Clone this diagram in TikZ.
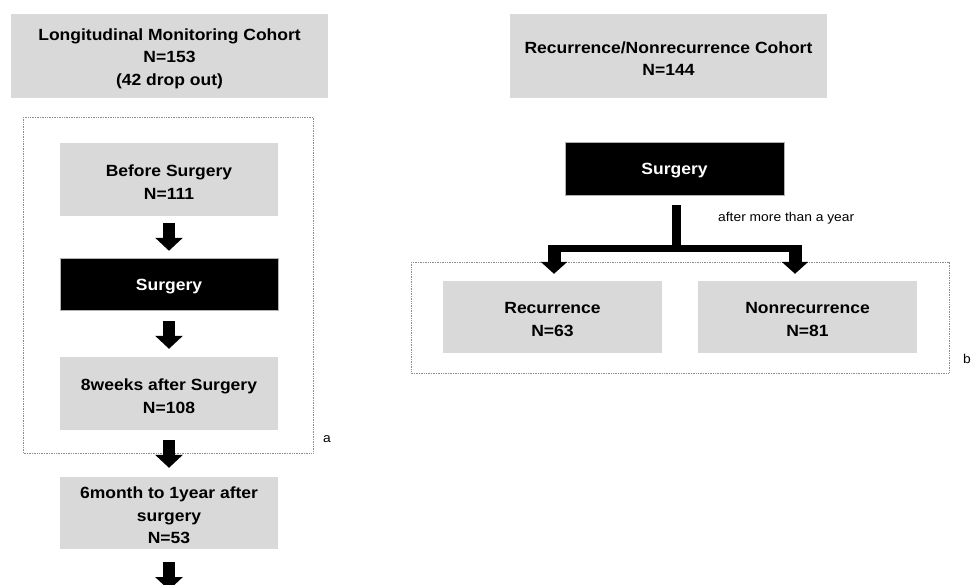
\documentclass[tikz,border=0pt]{standalone}
\usepackage{fontspec}
\setmainfont{Liberation Sans}[FakeStretch=1.08]
\usetikzlibrary{calc,arrows.meta}
\definecolor{boxgray}{HTML}{D9D9D9}
\definecolor{framegray}{HTML}{8C8C8C}
\begin{document}
\begin{tikzpicture}[x=1pt,y=-1pt,
  bigfont/.style={font=\fontsize{16.2}{22.5}\selectfont\bfseries},
  smallfont/.style={font=\fontsize{12.8}{15}\selectfont},
  boxtext/.style={bigfont, align=center, inner sep=0pt, yshift=-2.5pt},
  graybox/.style 2 args={fill=boxgray, inner sep=0pt, minimum width=#1, minimum height=#2},
  blackbox/.style 2 args={fill=black, draw=gray!60, line width=0.5pt, inner sep=0pt, minimum width=#1, minimum height=#2},
  frame/.style={draw=framegray, line width=0.7pt, dash pattern=on 0.8pt off 0.9pt},
  blockarrow/.style={line width=12pt, -{Triangle[width=27pt,length=13pt]}},
  branchdrop/.style={line width=13pt, -{Triangle[width=26pt,length=12pt]}},
  lbl/.style={smallfont, anchor=west, inner sep=0pt}
]
\useasboundingbox (0,0) rectangle (976,584);
\clip (0,0) rectangle (976,584);

% ---------- left column ----------
\node[graybox={317pt}{84pt}, label={[boxtext]center:{Longitudinal Monitoring Cohort\\N=153\\(42 drop out)}}] (lmc) at (169.5,56) {};
\draw[frame] (23,117) rectangle (313,453);
\node[lbl] (la) at (323,439) {a};

\node[graybox={218pt}{73pt}, label={[boxtext]center:{Before Surgery\\N=111}}] (bs) at (169,179.5) {};
\node[blackbox={218pt}{52pt}, label={[boxtext, text=white]center:{Surgery}}] (surgL) at (169,284) {};
\node[graybox={218pt}{73pt}, label={[boxtext]center:{8weeks after Surgery\\N=108}}] (w8) at (169,393.5) {};
\node[graybox={218pt}{72pt}, label={[boxtext]center:{6month to 1year after\\surgery\\N=53}}] (m6) at (169,513) {};
\coordinate (endL) at (169,590);

\draw[blockarrow] ($(bs.south)+(0,7)$) -- ($(surgL.north)+(0,-7)$);
\draw[blockarrow] ($(surgL.south)+(0,11)$) -- ($(w8.north)+(0,-8)$);
\draw[blockarrow] ($(w8.south)+(0,10)$) -- ($(m6.north)+(0,-9)$);
\draw[blockarrow] ($(m6.south)+(0,13)$) -- (endL);

% ---------- right column ----------
\node[graybox={317pt}{84pt}, label={[boxtext]center:{Recurrence/Nonrecurrence Cohort\\N=144}}] (rnc) at (668.5,56) {};
\node[blackbox={219pt}{53pt}, label={[boxtext, text=white]center:{Surgery}}] (surgR) at (674.5,168.5) {};
\draw[frame] (411,262) rectangle (949,373);
\node[lbl] (lb) at (963,359) {b};

\node[graybox={219pt}{72pt}, label={[boxtext]center:{Recurrence\\N=63}}] (rec) at (552.5,317) {};
\node[graybox={219pt}{72pt}, label={[boxtext]center:{Nonrecurrence\\N=81}}] (nonrec) at (807.5,317) {};

\node[lbl] (after) at (718,218) {after more than a year};

% branching connector
\coordinate (brL) at (554,245);
\coordinate (brR) at (795,245);
\draw[line width=9pt] ($(surgR.south)+(1.5,10)$) -- ($(surgR.south)+(1.5,57)$);
\fill[black] ($(brL)+(-6.5,0)$) rectangle ($(brR)+(6.5,7)$);
\draw[branchdrop] (brL) -- ($(rec.north)+(1.5,-7)$);
\draw[branchdrop] (brR) -- ($(nonrec.north)+(-12.5,-7)$);
\end{tikzpicture}
\end{document}
